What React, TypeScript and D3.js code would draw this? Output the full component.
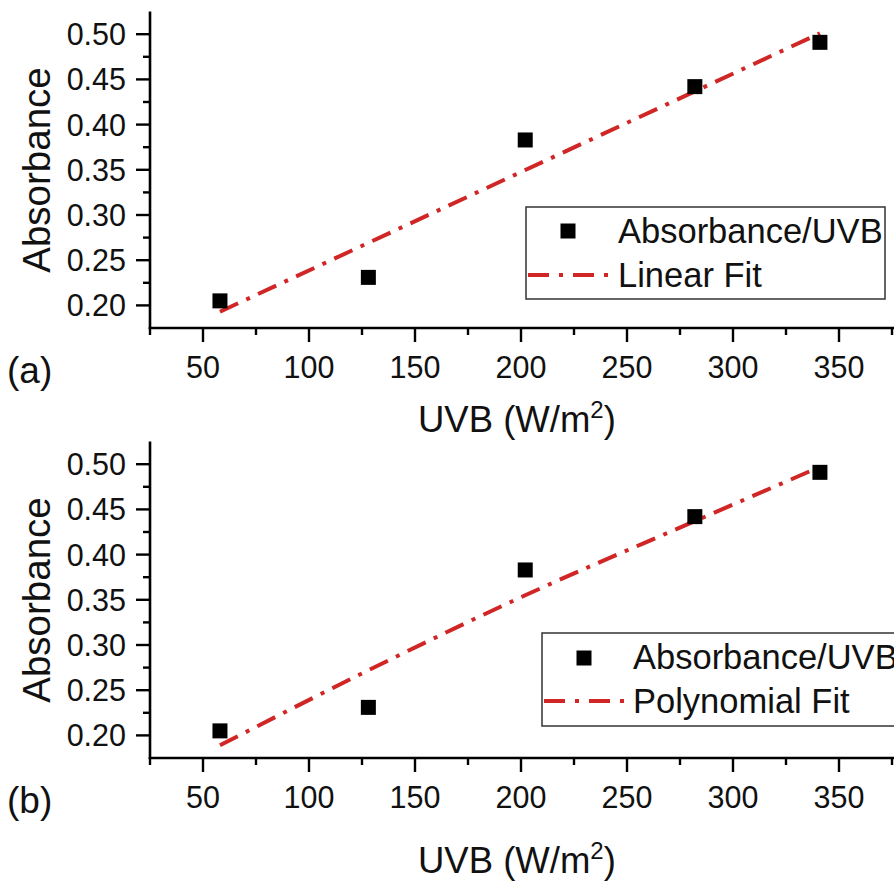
import React from "react";
import * as d3 from "d3";

const uvb = [58, 128, 202, 282, 341];
const absorbance = [0.205, 0.231, 0.383, 0.442, 0.491];
const linearFitX = [58, 341];
const linearFitY = [0.193, 0.501];
const polyFitX = [58, 128, 202, 282, 341];
const polyFitY = [0.189, 0.272, 0.355, 0.437, 0.497];
const xTicks = [50, 100, 150, 200, 250, 300, 350];
const xMinor = [25, 75, 125, 175, 225, 275, 325, 375];
const yTicks = [0.2, 0.25, 0.3, 0.35, 0.4, 0.45, 0.5];
const yMinor = [0.225, 0.275, 0.325, 0.375, 0.425, 0.475];
const panelLabels = ["(a)", "(b)"];
const fitLabels = ["Linear Fit", "Polynomial Fit"];
const seriesLabel = "Absorbance/UVB";

const FONT = "'Liberation Sans', Arial, sans-serif";
const RED = "#d02626";

const x = d3.scaleLinear().domain([25, 375]).range([150, 892]);
const y = d3.scaleLinear().domain([0.175, 0.525]).range([328, 11.6]);

function Panel({ offset, idx, fx, fy, legend }: any) {
  const line = d3
    .line<number>()
    .x((d, i) => x(fx[i]))
    .y((d) => y(d))
    .curve(fx.length > 2 ? d3.curveMonotoneX : d3.curveLinear);
  return (
    <g transform={`translate(0,${offset})`}>
      {/* axes */}
      <line x1={150} x2={150} y1={y.range()[1]} y2={y.range()[0] + 1} stroke="#000" strokeWidth={2.6} />
      <line x1={148.7} x2={894} y1={y.range()[0]} y2={y.range()[0]} stroke="#000" strokeWidth={2.6} />
      {yTicks.map((t) => (
        <g key={t}>
          <line x1={136} x2={150} y1={y(t)} y2={y(t)} stroke="#000" strokeWidth={2.4} />
          <text x={126} y={y(t)} dy="0.36em" textAnchor="end" fontSize={30.5} fontFamily={FONT} fill="#111">
            {d3.format(".2f")(t)}
          </text>
        </g>
      ))}
      {yMinor.map((t) => (
        <line key={t} x1={143} x2={150} y1={y(t)} y2={y(t)} stroke="#000" strokeWidth={2.4} />
      ))}
      {xTicks.map((t) => (
        <g key={t}>
          <line x1={x(t)} x2={x(t)} y1={y.range()[0]} y2={y.range()[0] + 14} stroke="#000" strokeWidth={2.4} />
          <text x={x(t)} y={378} textAnchor="middle" fontSize={30.5} fontFamily={FONT} fill="#111">
            {t}
          </text>
        </g>
      ))}
      {xMinor.map((t) => (
        <line key={t} x1={x(t)} x2={x(t)} y1={y.range()[0]} y2={y.range()[0] + 7} stroke="#000" strokeWidth={2.4} />
      ))}
      <text transform={`translate(50,170) rotate(-90)`} textAnchor="middle" fontSize={38.5} fontFamily={FONT} fill="#111">
        Absorbance
      </text>
      <text x={7} y={383} fontSize={37} fontFamily={FONT} fill="#111">
        {panelLabels[idx]}
      </text>
      <text x={418} y={idx === 0 ? 432 : 443} fontSize={36.5} fontFamily={FONT} fill="#111">
        UVB (W/m<tspan dy={-14} fontSize={24}>2</tspan>
        <tspan dy={14}>)</tspan>
      </text>
      {/* fit line */}
      <path d={line(fy) || ""} fill="none" stroke={RED} strokeWidth={4} strokeDasharray="20 9 4 9" />
      {/* points */}
      {uvb.map((v, i) => (
        <rect key={i} x={x(v) - 7.5} y={y(absorbance[i]) - 7.5} width={15} height={15} fill="#000" />
      ))}
      {/* legend */}
      <g>
        <rect x={legend.x} y={legend.y} width={legend.w} height={legend.h} fill="#fff" stroke="#333" strokeWidth={1.5} />
        <rect x={legend.mx - 7.5} y={legend.my - 7.5} width={15} height={15} fill="#000" />
        <text x={legend.tx} y={legend.b1} fontSize={34.5} fontFamily={FONT} fill="#111">
          {seriesLabel}
        </text>
        <line x1={legend.x + 2} x2={legend.tx - 8} y1={legend.ly} y2={legend.ly} stroke={RED} strokeWidth={4} strokeDasharray="21 10 4 10" />
        <text x={legend.tx} y={legend.b2} fontSize={34.5} fontFamily={FONT} fill="#111">
          {fitLabels[idx]}
        </text>
      </g>
    </g>
  );
}

export default function App() {
  return (
    <svg width={894} height={881} style={{ position: "absolute", left: 0, top: 0, background: "#fff" }}>
      <rect width={894} height={881} fill="#fff" />
      <Panel
        offset={0}
        idx={0}
        fx={linearFitX}
        fy={linearFitY}
        legend={{ x: 526, y: 207, w: 359, h: 92, mx: 568, my: 231, tx: 618, b1: 243, b2: 287, ly: 275 }}
      />
      <Panel
        offset={430}
        idx={1}
        fx={polyFitX}
        fy={polyFitY}
        legend={{ x: 542, y: 203, w: 360, h: 93, mx: 584, my: 228, tx: 633, b1: 239, b2: 283, ly: 271 }}
      />
    </svg>
  );
}
